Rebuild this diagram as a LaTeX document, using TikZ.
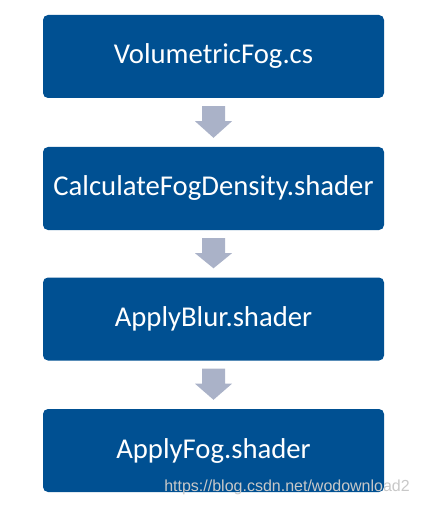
\documentclass[tikz,border=0pt]{standalone}
\usepackage{fontspec}
\setmainfont{Carlito}
\newfontfamily\wmfont{Liberation Sans}
\usetikzlibrary{calc}
\definecolor{boxblue}{RGB}{0,80,146}
\definecolor{arrgray}{RGB}{170,178,200}
\definecolor{wmgray}{RGB}{200,200,200}
\tikzset{
  stepbox/.style={fill=boxblue, draw=none, rounded corners=5pt, minimum width=341pt, minimum height=83pt, inner sep=0pt, text=white, font=\fontsize{28.7}{33}\selectfont},
  blockarrow/.style={fill=arrgray, draw=none}
}
\begin{document}
\begin{tikzpicture}[x=1pt,y=-1pt]
\useasboundingbox (0,0) rectangle (420,505);
\node[stepbox] (b1) at (213.5,56.5) {VolumetricFog.cs};
\node[stepbox] (b2) at (213.5,188.5) {CalculateFogDensity.shader};
\node[stepbox] (b3) at (213.5,319) {ApplyBlur.shader};
\node[stepbox] (b4) at (213.5,450.5) {ApplyFog.shader};
\foreach \a/\b in {b1/b2,b2/b3,b3/b4}{
  \path[blockarrow] ($(\a.south)+(-11.5,8)$) -- ($(\a.south)+(11.5,8)$) -- ($(\a.south)+(11.5,23)$) -- ($(\a.south)+(18.5,23)$) -- ($(\b.north)+(0,-9)$) -- ($(\a.south)+(-18.5,23)$) -- ($(\a.south)+(-11.5,23)$) -- cycle;
}
\node[text=wmgray, font=\wmfont\fontsize{16}{19}\selectfont, anchor=base east, inner sep=0pt] (wm) at (410,491) {https://blog.csdn.net/wodownload2};
\end{tikzpicture}
\end{document}
